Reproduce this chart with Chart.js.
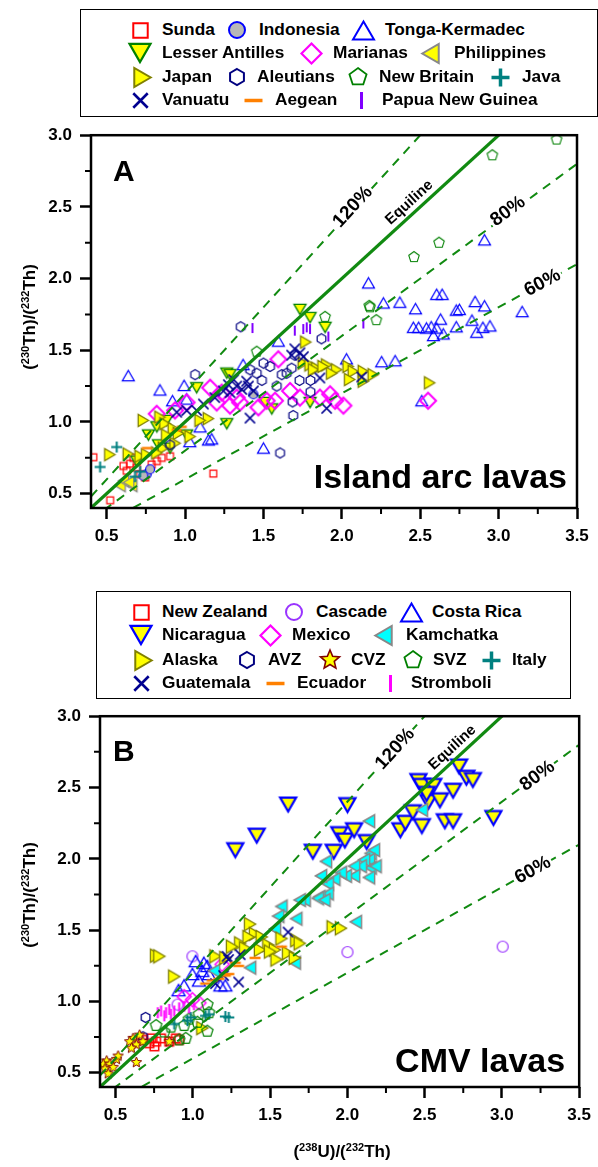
<!DOCTYPE html>
<html>
<head>
<meta charset="utf-8">
<script src="https://cdn.jsdelivr.net/npm/chart.js@4.4.1/dist/chart.umd.min.js"></script>
<style>
  body { margin: 0; background: #fff; }
  #page { position: relative; width: 598px; height: 1167px; overflow: hidden; font-family: "Liberation Sans", Arial, Helvetica, sans-serif; }
  .legend-box { position: absolute; border: 1.5px solid #000; box-sizing: border-box; }
  .lg-text { position: absolute; font-size: 17.3px; font-weight: bold; line-height: 20px; white-space: nowrap; color: #000; }
  .lg-mark { position: absolute; }
  canvas.chart { position: absolute; left: 0; }
  .ytitle, .xtitle { position: absolute; font-size: 17px; font-weight: bold; white-space: nowrap; color: #000; }
  .ytitle { transform: translate(-50%, -50%) rotate(-90deg); }
  .xtitle { transform: translate(-50%, -50%); }
  sup { font-size: 11px; vertical-align: 6px; line-height: 0; }
</style>
</head>
<body>
<div id="page">
  <div class="legend-box" style="left:80px; top:9px; width:518px; height:108px;"></div>
  <div class="legend-box" style="left:96px; top:591px; width:475px; height:108px;"></div>
  <canvas id="chartA" class="chart" width="598" height="443" style="top:117px"></canvas>
  <canvas id="chartB" class="chart" width="598" height="469" style="top:698px"></canvas>
  <div class="ytitle" style="left:30px; top:317px;">(<sup>230</sup>Th)/(<sup>232</sup>Th)</div>
  <div class="ytitle" style="left:30px; top:895px;">(<sup>230</sup>Th)/(<sup>232</sup>Th)</div>
  <div class="xtitle" style="left:342px; top:1152px;">(<sup>238</sup>U)/(<sup>232</sup>Th)</div>
</div>
<script>
// axis ticks (major every 0.5, minor every 0.25)
const xTickValues = [0.5, 0.75, 1.0, 1.25, 1.5, 1.75, 2.0, 2.25, 2.5, 2.75, 3.0, 3.25, 3.5];
const yTickValues = [0.5, 0.75, 1.0, 1.25, 1.5, 1.75, 2.0, 2.25, 2.5, 2.75, 3.0];

// reference lines: (230Th)/(232Th) = k * (238U)/(232Th)
const refRatios = [1.2, 1.0, 0.8, 0.6];
const refLabels = ['120%', 'Equiline', '80%', '60%'];

// ---- Panel A: island arc lavas ----
const sunda = [[0.415,0.754],[0.522,0.454],[1.18,0.64],[0.607,0.693],[0.649,0.709],[0.692,0.681],[0.628,0.659],[0.713,0.636],[0.82,0.727],[0.851,0.75],[0.904,0.761],[0.787,0.704],[0.745,0.613],[0.67,0.75]];
const indonesia = [[0.755,0.636],[0.777,0.67],[0.734,0.625],[1.436,1.193]];
const tongaKermadec = [[2.91,2.27],[2.17,1.97],[2.265,1.83],[2.37,1.835],[2.47,1.79],[2.605,1.89],[2.64,1.89],[2.85,1.84],[2.91,1.81],[3.15,1.77],[2.73,1.78],[2.75,1.785],[2.63,1.717],[2.83,1.71],[2.86,1.626],[2.945,1.67],[2.90,1.66],[2.456,1.66],[2.49,1.66],[2.54,1.655],[2.57,1.664],[2.605,1.655],[2.584,1.603],[2.647,1.614],[2.73,1.664],[1.595,1.564],[2.03,1.44],[2.254,1.42],[2.34,1.427],[0.638,1.323],[0.84,1.223],[0.994,1.255],[1.01,1.16],[0.92,1.148],[1.37,1.40],[1.096,0.966],[1.03,0.863],[1.149,0.875],[1.17,0.882],[1.5,0.818],[2.51,1.148]];
const lesserAntilles = [[1.733,1.785],[1.797,1.728],[1.893,1.66],[1.797,1.136],[1.553,1.091],[1.266,1.341],[1.287,1.33],[1.074,1.239],[1.266,0.988],[0.883,1.011],[0.82,0.966],[0.766,0.909],[0.83,0.84],[0.904,0.818],[1.51,1.136],[0.692,0.727],[1.01,0.909]];
const marianas = [[0.819,1.057],[0.936,1.08],[1.16,1.239],[1.234,1.205],[1.202,1.136],[1.287,1.114],[1.351,1.136],[1.468,1.102],[1.521,1.148],[1.595,1.437],[1.67,1.216],[1.574,1.148],[1.733,1.17],[1.86,1.17],[1.925,1.193],[1.957,1.148],[2.01,1.114],[2.55,1.148],[1.01,1.136],[1.33,1.17]];
const philippines = [[0.585,0.556],[0.66,0.556],[0.607,0.59],[0.64,0.579]];
const japan = [[1.77,1.557],[1.754,1.41],[1.797,1.398],[1.84,1.375],[1.903,1.398],[1.967,1.364],[2.04,1.387],[2.073,1.353],[2.137,1.353],[2.2,1.33],[2.137,1.284],[2.05,1.296],[2.56,1.273],[0.734,1.011],[0.84,1.034],[0.872,0.988],[0.925,0.954],[0.957,0.92],[0.883,0.909],[0.52,0.772],[0.638,0.777],[0.713,0.761],[0.755,0.772],[0.862,0.818],[0.82,0.784],[0.936,0.852],[1.032,0.898],[1.149,1.023],[1.096,1.011],[1.82,1.364],[1.935,1.34],[1.88,1.387]];
const aleutians = [[1.355,1.664],[1.87,1.58],[1.064,1.33],[1.606,0.784],[1.69,1.045],[1.686,1.14],[1.80,1.21],[1.73,1.29],[1.80,1.29],[1.617,1.33],[1.5,1.41],[1.49,1.29],[1.585,1.25],[1.648,1.34],[1.70,1.466],[1.68,1.375],[1.415,1.364],[1.457,1.34],[1.542,1.387],[0.904,0.84]];
const newBritain = [[3.37,2.97],[2.96,2.86],[2.62,2.25],[2.46,2.15],[2.175,1.81],[1.893,1.733],[2.18,1.80],[2.22,1.71],[1.457,1.49]];
const java = [[0.564,0.825],[0.458,0.686],[0.681,0.618],[0.713,0.654]];
const vanuatu = [[1.70,1.51],[1.733,1.482],[1.68,1.466],[1.755,1.455],[1.86,1.307],[1.903,1.095],[2.127,1.314],[1.414,1.027],[1.276,1.26],[1.33,1.25],[1.287,1.205],[1.362,1.227],[1.404,1.25],[1.31,1.295],[1.393,1.284],[1.436,1.216],[1.244,1.216],[1.074,1.08],[1.011,1.08],[0.947,1.068],[1.19,1.17],[1.117,1.125]];
const aegean = [[0.756,0.818],[0.947,0.943],[0.979,0.966]];
const papuaNewGuinea = [[1.43,1.655],[1.754,1.648],[1.776,1.66],[1.797,1.648],[1.914,1.596],[2.137,1.687],[1.70,1.637]];

// ---- Panel B: continental margin volcanic lavas ----
const newZealand = [[0.72,0.707],[0.763,0.718],[0.795,0.741],[0.891,0.741],[0.912,0.73],[0.752,0.685],[0.848,0.718],[0.731,0.741],[0.678,0.73]];
const cascade = [[0.998,1.316],[2.001,1.346],[3.005,1.384],[0.902,0.978]];
const costaRica = [[1.019,1.283],[1.072,1.271],[0.998,1.192],[1.062,1.215],[1.094,1.249],[1.04,1.147],[0.944,1.113],[0.908,1.079],[1.211,1.113],[1.179,1.113],[1.105,1.192]];
const nicaragua = [[1.275,2.061],[1.414,2.163],[1.617,2.381],[1.777,2.05],[1.912,2.05],[1.948,2.174],[1.984,2.129],[2.044,2.201],[2.001,2.377],[2.125,2.118],[2.343,2.201],[2.375,2.253],[2.424,2.327],[2.482,2.23],[2.46,2.546],[2.481,2.512],[2.556,2.512],[2.524,2.4],[2.599,2.411],[2.631,2.264],[2.684,2.264],[2.684,2.478],[2.723,2.648],[2.77,2.569],[2.812,2.553],[2.945,2.287],[2.513,2.456]];
const mexico = [[1.19,1.26],[0.998,1.012],[1.04,0.99],[0.944,1.034]];
const kamchatka = [[2.14,2.264],[2.482,2.343],[2.151,2.038],[2.172,2.061],[2.14,1.993],[2.151,1.937],[2.183,1.948],[2.108,1.993],[2.087,1.948],[2.044,1.948],[2.044,1.88],[1.99,1.88],[1.958,1.903],[1.916,1.858],[1.873,1.824],[1.83,1.88],[1.862,1.982],[2.14,1.869],[1.873,1.756],[1.82,1.734],[1.724,1.711],[1.574,1.666],[1.692,1.711],[1.809,1.723],[1.852,1.711],[1.67,1.58],[1.553,1.598],[1.66,1.271],[1.371,1.237],[2.055,1.558],[1.532,1.508],[1.137,1.215]];
const alaska = [[1.371,1.542],[1.905,1.52],[1.959,1.513],[0.763,1.321],[0.784,1.316],[0.88,1.174],[1.147,1.316],[1.062,0.813],[1.307,1.407],[1.403,1.474],[1.446,1.452],[1.489,1.395],[1.532,1.362],[1.574,1.441],[1.617,1.339],[1.67,1.429],[1.692,1.407],[1.542,1.294],[1.361,1.452],[1.339,1.373],[1.254,1.384],[1.435,1.362],[1.5,1.35],[1.211,1.305],[1.66,1.305]];
const avz = [[0.695,0.888],[0.678,0.752]];
const cvz = [[0.614,0.741],[0.635,0.696],[0.592,0.718],[0.656,0.764],[0.603,0.673],[0.678,0.718],[0.848,0.718],[0.443,0.583],[0.421,0.56],[0.464,0.56],[0.507,0.594],[0.485,0.538],[0.432,0.527],[0.635,0.572],[0.517,0.617],[0.453,0.493]];
const svz = [[1.094,0.978],[1.105,0.921],[1.04,0.91],[0.976,0.876],[0.944,0.831],[0.859,0.82],[0.816,0.786],[0.955,0.741],[0.912,0.73],[1.094,0.791],[0.763,0.831],[1.03,0.854]];
const italy = [[1.233,0.888],[1.211,0.894],[0.987,0.888],[0.88,0.842],[0.966,0.865],[1.083,0.899],[1.105,0.91]];
const guatemala = [[1.617,1.486],[1.222,1.316],[1.307,1.328],[1.232,1.294],[1.147,1.125],[1.297,1.136],[1.2,1.181]];
const ecuador = [[1.403,1.305],[1.297,1.249],[1.275,1.271],[1.211,1.181],[1.126,1.147],[1.083,1.125],[1.169,1.159],[1.574,1.384],[1.233,1.192]];
const stromboli = [[0.774,0.921],[0.795,0.933],[0.827,0.921],[0.848,0.944],[0.88,0.933],[0.912,0.955],[0.944,0.967],[0.976,0.955],[1.008,0.978],[0.816,0.899],[0.859,0.91]];

const FONT = '"Liberation Sans", Arial, Helvetica, sans-serif';
const GREEN = '#118a11';

// marker styles: [shape, size, stroke, fill, lineWidth]
const stylesA = {
    'Sunda':            ['square', 8, '#ff0000', null, 1.2],
    'Indonesia':        ['circle', 9, '#0000ff', '#b8b8b8', 1.2],
    'Tonga-Kermadec':   ['triUp', 12, '#0000ff', null, 1.2],
    'Lesser Antilles':  ['triDown', 12, '#008000', '#ffff00', 1.3],
    'Marianas':         ['diamond', 16, '#ff00ff', null, 2],
    'Philippines':      ['triLeft', 12, '#888888', '#ffff00', 1.3],
    'Japan':            ['triRight', 12, '#808000', '#ffff00', 1.3],
    'Aleutians':        ['hex', 10, '#000080', null, 1.2],
    'New Britain':      ['pent', 11, '#008000', null, 1.1],
    'Java':             ['plus', 11, '#008080', null, 2],
    'Vanuatu':          ['x', 12, '#000090', null, 1.5],
    'Aegean':           ['dash', 10, '#ff8000', null, 2.5],
    'Papua New Guinea': ['vline', 10, '#8000ff', null, 2]
};
const stylesB = {
    'New Zealand': ['square', 10, '#ff0000', null, 1.5],
    'Cascade':     ['circle', 11, '#9933ff', null, 1.2],
    'Costa Rica':  ['triUp', 13, '#0000ff', null, 1.3],
    'Nicaragua':   ['triDown', 16, '#0000ff', '#ffff00', 2.2],
    'Mexico':      ['diamond', 14, '#ff00ff', null, 1.5],
    'Kamchatka':   ['triLeft', 13, '#888888', '#00ffff', 1.5],
    'Alaska':      ['triRight', 13, '#808000', '#ffff00', 1.3],
    'AVZ':         ['hex', 10, '#000080', null, 1.3],
    'CVZ':         ['star', 11, '#800000', '#ffff00', 1],
    'SVZ':         ['pent', 12, '#008000', null, 1.2],
    'Italy':       ['plus', 11, '#008080', null, 2],
    'Guatemala':   ['x', 12, '#000090', null, 1.5],
    'Ecuador':     ['dash', 11, '#ff8000', null, 2.5],
    'Stromboli':   ['vline', 11, '#ff00ff', null, 2]
};
// legend marker size and line width per shape
const legendShape = {
    square: [17, 2], circle: [16, 2], triUp: [21, 2], triDown: [21, 2.2], triLeft: [19, 2],
    triRight: [19, 2], diamond: [20, 2.2], hex: [16, 2], pent: [18, 1.8], star: [20, 1.6],
    plus: [18, 3.5], x: [17, 2.6], dash: [18, 3.5], vline: [17, 3]
};

const seriesA = [
    ['Sunda', sunda], ['Indonesia', indonesia], ['Tonga-Kermadec', tongaKermadec],
    ['Lesser Antilles', lesserAntilles], ['Marianas', marianas], ['Philippines', philippines],
    ['Japan', japan], ['Aleutians', aleutians], ['New Britain', newBritain], ['Java', java],
    ['Vanuatu', vanuatu], ['Aegean', aegean], ['Papua New Guinea', papuaNewGuinea]
];
const seriesB = [
    ['New Zealand', newZealand], ['Cascade', cascade], ['Costa Rica', costaRica],
    ['Nicaragua', nicaragua], ['Mexico', mexico], ['Kamchatka', kamchatka],
    ['Alaska', alaska], ['AVZ', avz], ['CVZ', cvz], ['SVZ', svz], ['Italy', italy],
    ['Guatemala', guatemala], ['Ecuador', ecuador], ['Stromboli', stromboli]
];

// legend layout: name, marker centre x, text left x, row
const legendA = {rows: [30, 53, 77, 100], items: [
    ['Sunda', 140, 162, 0], ['Indonesia', 237, 259, 0], ['Tonga-Kermadec', 363, 385, 0],
    ['Lesser Antilles', 140, 162, 1], ['Marianas', 311, 333, 1], ['Philippines', 430, 454, 1],
    ['Japan', 142, 162, 2], ['Aleutians', 237, 257, 2], ['New Britain', 358, 379, 2], ['Java', 500, 522, 2],
    ['Vanuatu', 140, 162, 3], ['Aegean', 253, 275, 3], ['Papua New Guinea', 361, 382, 3]
]};
const legendB = {rows: [612, 635, 660, 683], items: [
    ['New Zealand', 141, 162, 0], ['Cascade', 294, 316, 0], ['Costa Rica', 411, 432, 0],
    ['Nicaragua', 141, 162, 1], ['Mexico', 270, 292, 1], ['Kamchatka', 383, 406, 1],
    ['Alaska', 143, 162, 2], ['AVZ', 247, 268, 2], ['CVZ', 330, 351, 2], ['SVZ', 413, 433, 2], ['Italy', 491, 512, 2],
    ['Guatemala', 141, 162, 3], ['Ecuador', 275, 297, 3], ['Stromboli', 390, 411, 3]
]};

function makeMarker(shape, size, stroke, fill, lw) {
    const s = Math.ceil(size + lw * 2 + 2);
    const c = document.createElement('canvas');
    c.width = s; c.height = s;
    const g = c.getContext('2d');
    g.translate(s / 2, s / 2);
    g.strokeStyle = stroke;
    g.lineWidth = lw;
    const r = size / 2;
    const poly = (n, start, rr) => {
        g.beginPath();
        for (let i = 0; i < n; i++) {
            const a = start + i * 2 * Math.PI / n;
            if (i === 0) g.moveTo(rr * Math.cos(a), rr * Math.sin(a));
            else g.lineTo(rr * Math.cos(a), rr * Math.sin(a));
        }
        g.closePath();
    };
    const tr = size / Math.sqrt(3);
    let closed = true;
    switch (shape) {
        case 'square': g.beginPath(); g.rect(-r * 0.85, -r * 0.85, r * 1.7, r * 1.7); break;
        case 'circle': g.beginPath(); g.arc(0, 0, r, 0, Math.PI * 2); break;
        case 'triUp': g.translate(0, tr / 4); poly(3, -Math.PI / 2, tr); break;
        case 'triDown': g.translate(0, -tr / 4); poly(3, Math.PI / 2, tr); break;
        case 'triLeft': g.translate(tr / 4, 0); poly(3, Math.PI, tr); break;
        case 'triRight': g.translate(-tr / 4, 0); poly(3, 0, tr); break;
        case 'diamond': poly(4, -Math.PI / 2, r); break;
        case 'hex': poly(6, -Math.PI / 2, r); break;
        case 'pent': poly(5, -Math.PI / 2, r); break;
        case 'star':
            g.beginPath();
            for (let i = 0; i < 10; i++) {
                const a = -Math.PI / 2 + i * Math.PI / 5;
                const rr = i % 2 ? r * 0.45 : r;
                if (i === 0) g.moveTo(rr * Math.cos(a), rr * Math.sin(a));
                else g.lineTo(rr * Math.cos(a), rr * Math.sin(a));
            }
            g.closePath();
            break;
        default:
            closed = false;
            g.beginPath();
            if (shape === 'plus' || shape === 'dash') { g.moveTo(-r, 0); g.lineTo(r, 0); }
            if (shape === 'plus' || shape === 'vline') { g.moveTo(0, -r); g.lineTo(0, r); }
            if (shape === 'x') { const q = r * 0.85; g.moveTo(-q, -q); g.lineTo(q, q); g.moveTo(-q, q); g.lineTo(q, -q); }
    }
    if (closed && fill) { g.fillStyle = fill; g.fill(); }
    g.stroke();
    return c;
}

function isMajor(v) { return Math.abs(v * 2 - Math.round(v * 2)) < 1e-9; }

const panelPlugin = {
    id: 'panel',
    afterDatasetsDraw(chart, args, o) {
        const {ctx, chartArea: a, scales: {x, y}} = chart;
        ctx.save();
        // reference line labels
        refLabels.forEach((txt, i) => {
            const k = refRatios[i];
            const [lx, ly] = o.labelPos[i];
            const px = x.getPixelForValue(lx), py = y.getPixelForValue(ly);
            const ang = Math.atan2(y.getPixelForValue(2 * k) - y.getPixelForValue(k),
                                   x.getPixelForValue(2) - x.getPixelForValue(1));
            ctx.save();
            ctx.translate(px, py);
            ctx.rotate(ang);
            ctx.font = i === 1 ? 'bold 15px ' + FONT : 'bold 19px ' + FONT;
            ctx.textAlign = 'center';
            ctx.textBaseline = 'middle';
            if (i !== 1) {
                const w = ctx.measureText(txt).width;
                ctx.fillStyle = '#fff';
                ctx.fillRect(-w / 2 - 2, -9, w + 4, 18);
            }
            ctx.fillStyle = '#000';
            ctx.fillText(txt, 0, 0);
            ctx.restore();
        });
        // panel letter and caption
        ctx.fillStyle = '#000';
        ctx.textBaseline = 'alphabetic';
        ctx.font = 'bold 30px ' + FONT;
        ctx.textAlign = 'left';
        ctx.fillText(o.letter, a.left + o.letterDx, a.top + o.letterDy);
        ctx.font = 'bold 34px ' + FONT;
        ctx.textAlign = 'right';
        ctx.fillText(o.caption, a.right - o.captionDx, a.bottom - o.captionDy);
        ctx.restore();
    },
    afterDraw(chart) {
        const {ctx, chartArea: a, scales: {x, y}} = chart;
        ctx.save();
        ctx.strokeStyle = '#000';
        ctx.lineWidth = 2;
        ctx.beginPath();
        x.ticks.forEach(t => {
            if (isMajor(t.value)) return;
            const p = x.getPixelForValue(t.value);
            ctx.moveTo(p, a.bottom); ctx.lineTo(p, a.bottom + 6);
        });
        y.ticks.forEach(t => {
            if (isMajor(t.value)) return;
            const p = y.getPixelForValue(t.value);
            ctx.moveTo(a.left, p); ctx.lineTo(a.left - 6, p);
        });
        ctx.stroke();
        ctx.lineWidth = 2.5;
        ctx.strokeRect(a.left, a.top, a.right - a.left, a.bottom - a.top);
        ctx.restore();
    }
};

function buildChart(id, series, styles, cfg) {
    const xMin = 0.4, xMax = 3.5, yMin = 0.4, yMax = 3.0;
    const refSets = refRatios.map((k, i) => ({
        type: 'scatter',
        data: [{x: xMin, y: xMin * k}, {x: xMax, y: xMax * k}],
        showLine: true,
        pointRadius: 0,
        borderColor: GREEN,
        borderWidth: i === 1 ? 3.2 : 2,
        borderDash: i === 1 ? [] : [9, 7]
    }));
    // later series drawn on top: Chart.js paints index 0 last
    const pointSets = series.slice().reverse().map(([name, pts]) => ({
        label: name,
        data: pts.map(p => ({x: p[0], y: p[1]})),
        pointStyle: makeMarker(...styles[name]),
        pointRadius: 5
    }));
    const tickFont = {family: FONT, size: 17, weight: 'bold'};
    return new Chart(document.getElementById(id), {
        type: 'scatter',
        data: {datasets: refSets.concat(pointSets)},
        options: {
            responsive: false,
            animation: false,
            events: [],
            layout: {autoPadding: false, padding: {top: cfg.padTop, right: cfg.padRight, left: 0, bottom: 0}},
            plugins: {legend: {display: false}, tooltip: {enabled: false}, panel: cfg.panel},
            scales: {
                x: {
                    type: 'linear', min: xMin, max: xMax,
                    afterBuildTicks: s => { s.ticks = xTickValues.map(v => ({value: v})); },
                    afterFit: s => { s.height = cfg.xHeight; },
                    ticks: {autoSkip: false, maxRotation: 0, padding: 7, color: '#000', font: tickFont,
                            callback: v => isMajor(v) ? v.toFixed(1) : ''},
                    grid: {drawOnChartArea: false, drawTicks: true, tickLength: 11, tickWidth: 2.5,
                           tickColor: c => (c.tick && isMajor(c.tick.value)) ? '#000' : 'rgba(0,0,0,0)'},
                    border: {display: false}
                },
                y: {
                    type: 'linear', min: yMin, max: yMax,
                    afterBuildTicks: s => { s.ticks = yTickValues.map(v => ({value: v})); },
                    afterFit: s => { s.width = cfg.yWidth; },
                    ticks: {autoSkip: false, padding: 8, color: '#000', font: tickFont,
                            callback: v => isMajor(v) ? v.toFixed(1) : ''},
                    grid: {drawOnChartArea: false, drawTicks: true, tickLength: 11, tickWidth: 2.5,
                           tickColor: c => (c.tick && isMajor(c.tick.value)) ? '#000' : 'rgba(0,0,0,0)'},
                    border: {display: false}
                }
            }
        },
        plugins: [panelPlugin]
    });
}

function buildLegend(layout, styles) {
    const page = document.getElementById('page');
    layout.items.forEach(([name, mx, tx, row]) => {
        const st = styles[name].slice();
        const [sz, lw] = legendShape[st[0]];
        st[1] = sz;
        st[4] = lw;
        const c = makeMarker(...st);
        c.className = 'lg-mark';
        c.style.left = (mx - c.width / 2) + 'px';
        c.style.top = (layout.rows[row] - c.height / 2) + 'px';
        page.appendChild(c);
        const t = document.createElement('div');
        t.className = 'lg-text';
        t.textContent = name;
        t.style.left = tx + 'px';
        t.style.top = (layout.rows[row] - 11) + 'px';
        page.appendChild(t);
    });
}

buildLegend(legendA, stylesA);
buildLegend(legendB, stylesB);

buildChart('chartA', seriesA, stylesA, {
    padTop: 10, padRight: 21, xHeight: 52, yWidth: 91,
    panel: {letter: 'A', letterDx: 22, letterDy: 46, caption: 'Island arc lavas', captionDx: 10, captionDy: 20,
            labelPos: [[2.07, 2.50], [2.43, 2.53], [3.06, 2.47], [3.28, 1.97]]}
});
buildChart('chartB', seriesB, stylesB, {
    padTop: 5, padRight: 14, xHeight: 80, yWidth: 100,
    panel: {letter: 'B', letterDx: 13, letterDy: 45, caption: 'CMV lavas', captionDx: 14, captionDy: 15,
            labelPos: [[2.31, 2.77], [2.68, 2.78], [3.23, 2.58], [3.2, 1.92]]}
});
</script>
</body>
</html>
